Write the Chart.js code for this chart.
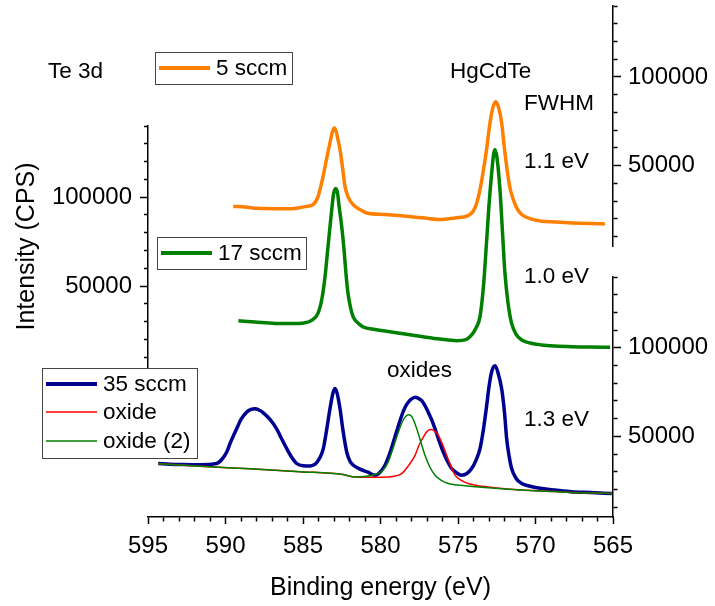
<!DOCTYPE html>
<html>
<head>
<meta charset="utf-8">
<title>Te 3d</title>
<script src="https://cdn.jsdelivr.net/npm/chart.js@4"></script>
<style>
  html, body { margin: 0; padding: 0; background: #fff; }
  #wrap { position: relative; width: 715px; height: 606px; }
  #wrap canvas { position: absolute; left: 0; top: 0; }
</style>
</head>
<body>
<div id="wrap">
  <canvas id="chart5" width="715" height="606"></canvas>
  <canvas id="chart17" width="715" height="606"></canvas>
  <canvas id="chart35" width="715" height="606"></canvas>
</div>
<script>
// binding energy (eV) / intensity (CPS)

// 5 sccm
let energy5 = [589.50, 588.74, 587.90, 586.81, 585.73, 585.19, 584.81, 584.35, 584.03, 583.71, 583.45, 583.26, 583.10, 582.98, 582.87, 582.74, 582.61, 582.45, 582.29, 582.10, 581.77, 581.32, 580.89, 579.71, 578.31, 577.13, 576.16, 575.19, 574.35, 574.03, 573.79, 573.58, 573.39, 573.16, 572.94, 572.74, 572.57, 572.39, 572.18, 572.03, 571.86, 571.65, 571.43, 571.19, 570.89, 570.35, 569.60, 568.74, 567.66, 566.48, 565.52];
let counts5 = [27100, 26700, 26000, 25800, 25800, 26400, 27000, 28100, 32600, 43800, 55100, 62900, 69100, 71200, 69700, 64600, 59000, 48900, 38400, 32600, 28100, 25300, 23400, 22500, 21500, 20500, 19700, 20600, 21900, 24200, 29000, 36500, 45900, 59000, 74000, 83100, 86100, 83100, 74000, 61800, 49600, 37600, 30900, 25800, 22500, 20200, 18700, 18300, 17800, 17400, 17200];

// 17 sccm
let energy17 = [589.17, 588.10, 586.81, 585.84, 584.87, 584.42, 584.03, 583.77, 583.58, 583.39, 583.15, 583.03, 582.89, 582.77, 582.68, 582.50, 582.35, 582.23, 582.10, 581.94, 581.77, 581.45, 581.13, 580.35, 579.39, 578.42, 577.26, 576.16, 575.08, 574.48, 574.12, 573.84, 573.58, 573.35, 573.15, 573.00, 572.83, 572.71, 572.61, 572.48, 572.29, 572.13, 571.97, 571.77, 571.54, 571.26, 570.89, 570.35, 569.60, 568.74, 567.66, 566.48, 565.19];
let counts17 = [30500, 29800, 29000, 28900, 29400, 30900, 34800, 43300, 55200, 71900, 92700, 101700, 104900, 102200, 95500, 83300, 70200, 57300, 46100, 38200, 32800, 29200, 27100, 25600, 24300, 23000, 21500, 20200, 19300, 19900, 22500, 26400, 32800, 50600, 75800, 95500, 113300, 123600, 126800, 121900, 103900, 80300, 57100, 40400, 29000, 23000, 19700, 18000, 16900, 16300, 15900, 15700, 15600];

// 35 sccm
let energy35 = [594.34, 593.58, 592.72, 591.65, 590.57, 590.23, 589.92, 589.65, 589.28, 589.00, 588.63, 588.35, 588.10, 587.84, 587.56, 587.13, 586.70, 586.42, 586.05, 585.77, 585.41, 585.00, 584.55, 584.29, 584.12, 583.90, 583.69, 583.48, 583.26, 583.06, 582.94, 582.81, 582.61, 582.42, 582.18, 581.97, 581.75, 581.32, 580.81, 580.35, 580.03, 579.71, 579.45, 579.17, 578.90, 578.63, 578.42, 578.21, 577.97, 577.77, 577.58, 577.34, 577.13, 576.92, 576.71, 576.48, 576.23, 575.95, 575.68, 575.41, 575.10, 574.76, 574.45, 574.12, 573.84, 573.58, 573.35, 573.15, 573.00, 572.81, 572.61, 572.42, 572.18, 572.00, 571.86, 571.71, 571.54, 571.26, 570.89, 570.35, 569.60, 568.74, 567.66, 566.48, 565.08];
let counts35 = [34700, 34300, 34100, 34000, 34700, 37100, 41200, 47200, 54300, 59600, 63700, 65200, 65600, 64900, 63300, 59600, 54300, 49400, 43100, 38800, 34700, 33400, 33300, 34000, 35200, 38200, 43100, 53400, 65600, 74700, 77100, 74700, 65600, 53400, 41200, 36000, 33700, 31500, 29800, 28100, 29800, 33700, 39300, 46800, 54500, 61800, 66300, 69300, 71300, 72100, 71600, 70200, 67400, 63700, 59600, 54300, 47800, 41200, 36000, 31900, 29500, 28100, 28900, 31900, 36500, 43100, 54500, 67400, 78100, 87100, 89900, 86000, 76800, 63500, 48700, 39300, 31900, 26400, 23400, 21900, 20600, 19700, 18700, 18300, 17800];

// fitted oxide components (35 sccm)
let energyOx1 = [594.34, 591.65, 588.42, 585.19, 582.42, 581.65, 580.68, 579.50, 579.06, 578.63, 578.23, 577.77, 577.52, 577.24, 577.00, 576.74, 576.52, 576.27, 576.00, 575.73, 575.45, 575.19, 574.81, 574.34, 573.71, 573.05, 571.97, 570.89, 569.39, 567.66, 566.48, 565.08];
let countsOx1 = [34600, 33100, 31700, 30100, 28500, 27100, 27000, 27100, 27600, 29000, 33100, 39300, 44900, 49600, 52800, 53900, 53100, 50600, 45500, 39300, 33100, 28100, 25300, 23400, 22200, 21500, 20500, 19700, 19100, 18400, 18100, 17800];
let energyOx2 = [594.34, 591.65, 588.42, 585.19, 582.42, 581.65, 580.35, 579.84, 579.50, 579.19, 578.85, 578.55, 578.35, 578.16, 577.97, 577.66, 577.39, 577.13, 576.81, 576.48, 576.10, 575.63, 574.55, 573.05, 570.89, 567.66, 565.08];
let countsOx2 = [34600, 33100, 31700, 30100, 28500, 27100, 28500, 30900, 35600, 43300, 52400, 59000, 61500, 62200, 61000, 54300, 46600, 39300, 32600, 28100, 25300, 23400, 22200, 21000, 19700, 18400, 17800];

// axis ranges and ticks
let xMin = 565, xMax = 595;
let yMin = 4500, yMax = 140000;
let intensityTicks = [10000, 20000, 30000, 40000, 50000, 60000, 70000, 80000, 90000, 100000, 110000, 120000, 130000, 140000];
let intensityLabels = [50000, 100000];

const ORANGE = '#ff8000', GREEN = '#008000', NAVY = '#000090', RED = '#ff0000';

Chart.defaults.font.family = "'Liberation Sans', Arial, sans-serif";
Chart.defaults.color = '#000';

function pts(xs, ys) {
    return xs.map((x, i) => ({ x: x, y: ys[i] }));
}

function line(xs, ys, color, width, order) {
    return {
        data: pts(xs, ys),
        borderColor: color,
        borderWidth: width,
        pointRadius: 0,
        cubicInterpolationMode: 'monotone',
        borderJoinStyle: 'round',
        order: order || 0
    };
}

function xScale(show) {
    return {
        type: 'linear', min: xMin, max: xMax, reverse: true, display: show,
        border: { color: '#000', width: 1.5 },
        grid: {
            drawOnChartArea: false, tickLength: 7, tickWidth: 1.5, tickColor: '#000',
            tickBorderDash: ctx => (ctx.tick && ctx.tick.value % 5 !== 0) ? [4, 100] : []
        },
        ticks: {
            stepSize: 1, autoSkip: false, maxRotation: 0, minRotation: 0,
            font: { size: 24 }, padding: 8,
            callback: v => v % 5 === 0 ? String(v) : ''
        },
        title: { display: show, text: 'Binding energy (eV)', font: { size: 25 }, padding: { top: 0, bottom: 3 } },
        afterFit: s => { s.height = show ? 89 : 0; s.paddingLeft = 0; s.paddingRight = 0; }
    };
}

function yScale(pos, width, title) {
    return {
        type: 'linear', position: pos, min: yMin, max: yMax,
        border: { color: '#000', width: 1.5 },
        grid: {
            drawOnChartArea: false, tickLength: 8, tickWidth: 1.5, tickColor: '#000',
            tickBorderDash: ctx => {
                if (!ctx.tick || intensityLabels.includes(ctx.tick.value)) return [];
                return pos === 'left' ? [0, 4, 4, 100] : [4, 100];
            }
        },
        ticks: {
            autoSkip: false,
            font: { size: 24 }, padding: pos === 'left' ? 8 : 7,
            callback: v => intensityLabels.includes(v) ? String(v) : ''
        },
        afterBuildTicks: s => { s.ticks = intensityTicks.map(v => ({ value: v })); },
        title: title ? { display: true, text: title, font: { size: 25 }, padding: { top: 12, bottom: 0 } } : { display: false },
        afterFit: s => { s.width = width; s.paddingTop = 0; s.paddingBottom = 0; }
    };
}

function baseOptions(padding, scales) {
    return {
        responsive: false,
        animation: false,
        devicePixelRatio: 1,
        events: [],
        layout: { padding: padding },
        plugins: { legend: { display: false }, tooltip: { enabled: false } },
        scales: scales
    };
}

// legends and labels, drawn on the last canvas
function drawLegend(ctx, x, y, w, h, rows) {
    ctx.save();
    ctx.fillStyle = '#fff';
    ctx.fillRect(x, y, w, h);
    ctx.strokeStyle = '#444';
    ctx.lineWidth = 1;
    ctx.strokeRect(x + 0.5, y + 0.5, w, h);
    ctx.font = "22.5px 'Liberation Sans', Arial, sans-serif";
    ctx.textBaseline = 'middle';
    ctx.textAlign = 'left';
    rows.forEach(r => {
        ctx.strokeStyle = r.color;
        ctx.lineWidth = r.width;
        ctx.beginPath();
        ctx.moveTo(x + 4, r.y);
        ctx.lineTo(x + 55, r.y);
        ctx.stroke();
        ctx.fillStyle = '#000';
        ctx.fillText(r.text, x + 61, r.y + 1);
    });
    ctx.restore();
}

const notesPlugin = {
    id: 'notes',
    afterDraw(chart) {
        const ctx = chart.ctx;
        drawLegend(ctx, 155, 52, 137, 32, [{ text: '5 sccm', color: ORANGE, width: 4, y: 68 }]);
        drawLegend(ctx, 157, 237, 149, 32, [{ text: '17 sccm', color: GREEN, width: 4, y: 253 }]);
        drawLegend(ctx, 42, 368, 155, 90, [
            { text: '35 sccm', color: NAVY, width: 4, y: 384 },
            { text: 'oxide', color: RED, width: 1.5, y: 412 },
            { text: 'oxide (2)', color: GREEN, width: 1.5, y: 441 }
        ]);
        ctx.save();
        ctx.font = "22.5px 'Liberation Sans', Arial, sans-serif";
        ctx.fillStyle = '#000';
        ctx.textBaseline = 'middle';
        ctx.textAlign = 'left';
        ctx.fillText('Te 3d', 48, 72);
        ctx.fillText('HgCdTe', 450, 72);
        ctx.fillText('FWHM', 524, 104);
        ctx.fillText('1.1 eV', 524, 162);
        ctx.fillText('1.0 eV', 524, 277);
        ctx.fillText('oxides', 387, 371);
        ctx.fillText('1.3 eV', 524, 420);
        ctx.restore();
    }
};

new Chart(document.getElementById('chart5'), {
    type: 'line',
    data: { datasets: [line(energy5, counts5, ORANGE, 3.5)] },
    options: baseOptions({ left: 148, top: 6, right: 0, bottom: 359.5 },
        { x: xScale(false), y: yScale('right', 102) })
});

new Chart(document.getElementById('chart17'), {
    type: 'line',
    data: { datasets: [line(energy17, counts17, GREEN, 3.5)] },
    options: baseOptions({ left: 0, top: 126, right: 102, bottom: 239 },
        { x: xScale(false), y: yScale('left', 148, 'Intensity (CPS)') })
});

new Chart(document.getElementById('chart35'), {
    type: 'line',
    data: {
        datasets: [
            line(energy35, counts35, NAVY, 3.5, 3),
            line(energyOx1, countsOx1, RED, 1.5, 2),
            line(energyOx2, countsOx2, GREEN, 1.5, 1)
        ]
    },
    options: baseOptions({ left: 148, top: 277, right: 0, bottom: 0 },
        { x: xScale(true), y: yScale('right', 102) }),
    plugins: [notesPlugin]
});
</script>
</body>
</html>
